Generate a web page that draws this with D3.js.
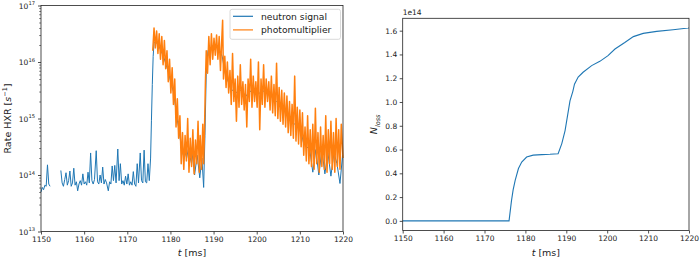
<!DOCTYPE html>
<html>
<head>
<meta charset="utf-8">
<script src="https://cdn.jsdelivr.net/npm/d3@7"></script>
<style>
  body { margin: 0; background: #fff; }
  svg { display: block; font-family: "DejaVu Sans", sans-serif; }
</style>
</head>
<body>
<div id="chart-area"></div>
<script>
// data: [t in ms, log10(rate)]  (null = gap in the signal)
const neutronSignal = [
  [1150.0,13.70],[1150.3,13.78],[1150.6,13.74],[1150.9,13.82],[1151.2,13.80],[1151.5,14.18],[1151.8,13.84],[1152.1,13.80],
  [1152.4,null],[1152.7,13.80],[1153.0,null],[1153.3,13.79],[1153.6,null],[1154.0,13.76],[1154.3,null],[1154.6,14.08],
  [1154.9,13.86],[1155.2,13.80],[1155.5,13.92],[1155.8,14.04],[1156.1,13.82],[1156.4,13.90],[1156.7,14.07],[1157.0,13.80],
  [1157.3,13.86],[1157.6,14.12],[1157.9,13.82],[1158.2,13.88],[1158.5,13.72],[1158.8,13.84],[1159.1,13.90],[1159.4,13.82],
  [1159.7,14.02],[1160.0,13.84],[1160.3,13.88],[1160.6,13.82],[1160.9,14.05],[1161.2,13.86],[1161.5,14.39],[1161.8,13.90],
  [1162.1,13.84],[1162.4,13.92],[1162.8,14.43],[1163.1,13.88],[1163.4,13.84],[1163.7,14.00],[1164.0,13.86],[1164.3,14.14],
  [1164.6,13.84],[1164.9,13.92],[1165.2,13.86],[1165.6,13.72],[1165.9,13.88],[1166.2,13.84],[1166.5,14.16],[1166.8,13.90],
  [1167.1,14.17],[1167.4,13.86],[1167.8,14.46],[1168.1,13.90],[1168.4,14.20],[1168.7,13.84],[1169.0,13.90],[1169.3,13.82],
  [1169.6,13.98],[1169.9,13.84],[1170.2,14.02],[1170.5,13.82],[1170.8,13.88],[1171.1,13.82],[1171.4,14.06],[1171.7,13.84],
  [1172.0,13.80],[1172.3,14.20],[1172.6,13.86],[1173.0,14.39],[1173.3,13.90],[1173.6,13.86],[1173.9,14.44],[1174.2,13.88],
  [1174.5,13.86],[1174.8,14.20],[1175.1,13.90],[1175.4,14.30],[1175.6,14.97],[1175.8,15.60],[1176.0,16.10],[1176.2,16.35],
  [1176.6,16.35],[1177.2,16.30],[1177.8,16.20],[1178.4,16.10],[1179.0,15.95],[1179.6,15.80],[1180.2,15.60],[1180.8,15.45],
  [1181.4,15.05],[1182.0,14.80],[1182.6,14.45],[1183.2,14.30],[1183.8,14.45],[1184.4,14.20],[1185.0,14.40],[1185.6,14.00],
  [1186.2,14.35],[1186.8,13.95],[1187.3,14.30],[1187.7,13.78],[1188.0,14.70],[1188.3,15.80],[1188.7,16.20],[1189.3,16.25],
  [1190.0,16.30],[1190.7,16.30],[1191.4,16.20],[1192.0,16.10],[1192.7,15.80],[1193.4,15.65],[1194.1,15.50],[1194.8,15.50],
  [1195.5,15.45],[1196.2,15.50],[1196.9,15.45],[1197.6,15.40],[1198.3,15.50],[1199.0,15.45],[1199.7,15.50],[1200.4,15.45],
  [1201.1,15.45],[1201.8,15.50],[1202.5,15.45],[1203.2,15.40],[1203.9,15.35],[1204.6,15.30],[1205.3,15.25],[1206.0,15.20],
  [1206.7,15.10],[1207.4,15.00],[1208.1,14.95],[1208.8,14.90],[1209.5,14.85],[1210.2,14.80],[1210.9,14.55],[1211.6,14.50],
  [1212.3,14.45],[1213.0,14.05],[1213.7,14.45],[1214.4,14.00],[1215.1,14.45],[1215.8,14.02],[1216.5,14.40],[1217.2,13.98],
  [1217.9,14.40],[1218.6,14.20],[1219.3,13.85],[1219.9,14.35]
]

const photomultiplier = [
  [1175.9,16.20],[1176.2,16.60],[1176.5,16.25],[1176.8,16.55],[1177.1,16.15],[1177.4,16.50],
  [1177.7,16.05],[1178.0,16.45],[1178.3,15.95],[1178.6,16.38],[1178.9,15.88],[1179.2,16.20],
  [1179.5,15.65],[1179.8,16.05],[1180.1,15.45],[1180.4,15.90],[1180.7,15.25],[1181.0,15.70],
  [1181.3,14.85],[1181.6,15.35],[1181.9,14.65],[1182.2,15.05],
  [1182.5,14.20],[1182.8,14.75],[1183.1,14.10],[1183.4,14.70],[1183.7,14.25],[1184.0,15.00],[1184.3,14.05],[1184.6,14.65],
  [1184.9,14.15],[1185.2,14.80],[1185.5,14.02],[1185.8,14.62],[1186.1,14.20],[1186.4,14.95],[1186.7,14.05],[1186.9,14.70],
  [1187.2,14.10],[1187.5,14.90],[1187.7,14.20],[1187.9,14.80],[1188.1,15.60],[1188.3,16.20],
  [1188.6,15.80],[1188.9,16.45],[1189.2,15.95],[1189.5,16.50],[1189.8,16.05],[1190.1,16.42],[1190.4,16.12],[1190.7,16.48],
  [1191.0,16.05],[1191.3,16.45],[1191.6,15.85],[1191.9,16.40],[1192.1,16.74],[1192.3,15.70],
  [1192.6,16.10],[1192.9,15.55],[1193.2,16.00],[1193.5,15.45],[1193.8,15.85],
  [1194.1,15.25],[1194.4,16.15],[1194.7,15.30],[1195.0,15.70],[1195.3,14.95],[1195.6,15.75],[1195.9,15.20],[1196.2,15.95],
  [1196.5,15.25],[1196.8,15.65],[1197.1,15.15],[1197.4,15.60],[1197.7,14.85],[1198.0,15.70],[1198.3,15.30],[1198.6,16.05],
  [1198.9,15.20],[1199.2,15.75],[1199.5,15.30],[1199.8,15.65],[1200.1,15.20],[1200.4,16.00],[1200.7,14.80],[1201.0,15.70],
  [1201.3,15.25],[1201.6,15.95],[1201.9,15.20],[1202.2,15.70],[1202.5,15.30],[1202.8,15.65],[1203.1,15.15],[1203.4,15.75],
  [1203.7,15.10],[1204.0,15.60],[1204.3,15.05],[1204.6,15.98],[1204.9,15.00],[1205.2,15.55],
  [1205.5,14.95],[1205.8,15.50],[1206.1,14.90],[1206.4,15.45],[1206.7,14.85],[1207.0,15.40],
  [1207.3,14.75],[1207.6,15.30],[1207.9,14.70],[1208.2,15.25],[1208.5,14.65],[1208.8,15.75],[1209.1,14.60],[1209.4,15.20],
  [1209.7,14.55],[1210.0,15.15],[1210.3,14.50],[1210.6,15.10],
  [1210.9,14.35],[1211.2,14.85],[1211.5,14.25],[1211.8,15.05],[1212.1,14.20],[1212.4,14.80],[1212.7,14.15],[1213.0,14.90],
  [1213.3,14.10],[1213.6,15.18],[1213.9,14.20],[1214.2,14.75],[1214.5,14.05],[1214.8,14.85],[1215.1,14.15],[1215.4,14.70],
  [1215.7,14.10],[1216.0,15.05],[1216.3,14.05],[1216.6,14.80],[1216.9,14.20],[1217.2,14.95],[1217.5,14.10],[1217.8,14.75],
  [1218.1,14.05],[1218.4,15.00],[1218.7,14.15],[1219.0,14.80],[1219.3,14.10],[1219.6,14.90],[1220.0,14.30]
]

// N_loss in units of 1e14
const nLoss = [
  [1150,0],[1176.0,0],[1176.6,0.17],[1177.0,0.26],[1177.5,0.34],[1178.3,0.44],[1179.1,0.495],[1180.3,0.537],
  [1181.9,0.553],[1184.0,0.557],[1186.0,0.56],[1188.0,0.565],[1188.9,0.65],[1189.7,0.76],[1190.9,1.01],
  [1191.6,1.09],[1192.0,1.15],[1192.9,1.21],[1194.1,1.25],[1196.2,1.306],[1198.2,1.342],[1200.2,1.39],
  [1201.9,1.446],[1204.3,1.50],[1206.4,1.55],[1208.8,1.577],[1212.1,1.594],[1216.1,1.608],[1219.8,1.622],[1220,1.623]
]

const timeTicks = [1150, 1160, 1170, 1180, 1190, 1200, 1210, 1220]
const logExponents = [13, 14, 15, 16, 17]
const lossTicks = [0, 0.2, 0.4, 0.6, 0.8, 1.0, 1.2, 1.4, 1.6]
const seriesNames = ["neutron signal", "photomultiplier"]
const seriesColors = ["#1f77b4", "#ff7f0e"]

const WIDTH = 700
const HEIGHT = 260
const LEFT = { X0: 41, X1: 343, Y0: 5.5, Y1: 231.5 }
const RIGHT = { X0: 402.7, X1: 689, Y0: 18.3, Y1: 230.5 }
const TICK_FONT = 7.5
const LABEL_FONT = 9.5
const INK = "#222"

const svg = d3.select("#chart-area").append("svg")
  .attr("width", WIDTH)
  .attr("height", HEIGHT)

// ---------- left panel ----------
const xLeft = d3.scaleLinear().domain([1150, 1220]).range([LEFT.X0, LEFT.X1])
const yLeft = d3.scaleLog().domain([1e13, 1e17]).range([LEFT.Y1, LEFT.Y0])

const minorLog = []
logExponents.slice(0, -1).forEach(e => {
  for (let m = 2; m <= 9; m++) minorLog.push(m * Math.pow(10, e))
})

svg.append("g")
  .attr("transform", `translate(${LEFT.X0},0)`)
  .call(d3.axisLeft(yLeft).tickValues(minorLog).tickSize(1.8).tickFormat(""))
  .call(g => g.select(".domain").remove())
  .selectAll("line").attr("stroke", INK).attr("stroke-width", 0.6)

const yLeftAxis = svg.append("g")
  .attr("transform", `translate(${LEFT.X0},0)`)
  .call(d3.axisLeft(yLeft).tickValues(logExponents.map(e => Math.pow(10, e))).tickSize(3).tickFormat(""))
yLeftAxis.select(".domain").remove()
yLeftAxis.selectAll("line").attr("stroke", INK).attr("stroke-width", 0.8)

logExponents.forEach(e => {
  const t = svg.append("text")
    .attr("x", LEFT.X0 - 6)
    .attr("y", yLeft(Math.pow(10, e)) + 3.2)
    .attr("text-anchor", "end")
    .attr("font-size", TICK_FONT)
    .attr("fill", INK)
  t.append("tspan").text("10")
  t.append("tspan").attr("font-size", 5.2).attr("dy", -3.6).text(e)
})

const xLeftAxis = svg.append("g")
  .attr("transform", `translate(0,${LEFT.Y1})`)
  .call(d3.axisBottom(xLeft).tickValues(timeTicks).tickSize(3).tickPadding(2.5).tickFormat(d3.format("d")))
xLeftAxis.select(".domain").remove()
xLeftAxis.selectAll("line").attr("stroke", INK).attr("stroke-width", 0.8)
xLeftAxis.selectAll("text").attr("font-size", TICK_FONT).attr("fill", INK)
  .attr("font-family", "DejaVu Sans")

const logLine = d3.line()
  .defined(d => d[1] !== null)
  .x(d => xLeft(d[0]))
  .y(d => yLeft(Math.pow(10, d[1])))

const plotLeft = svg.append("g")
plotLeft.append("path")
  .datum(neutronSignal)
  .attr("d", logLine)
  .attr("fill", "none")
  .attr("stroke", seriesColors[0])
  .attr("stroke-width", 1)
plotLeft.append("path")
  .datum(photomultiplier)
  .attr("d", logLine)
  .attr("fill", "none")
  .attr("stroke", seriesColors[1])
  .attr("stroke-width", 1.5)
  .attr("stroke-linejoin", "round")

svg.append("rect")
  .attr("x", LEFT.X0).attr("y", LEFT.Y0)
  .attr("width", LEFT.X1 - LEFT.X0).attr("height", LEFT.Y1 - LEFT.Y0)
  .attr("fill", "none").attr("stroke", INK).attr("stroke-width", 0.8)

// legend
const legend = svg.append("g").attr("transform", "translate(230,9.3)")
legend.append("rect")
  .attr("width", 110.5).attr("height", 30)
  .attr("rx", 2)
  .attr("fill", "#fff").attr("fill-opacity", 0.8)
  .attr("stroke", "#d0d0d0").attr("stroke-width", 0.8)
seriesNames.forEach((name, i) => {
  const yy = 7 + i * 13.6
  legend.append("line")
    .attr("x1", 3).attr("x2", 23).attr("y1", yy).attr("y2", yy)
    .attr("stroke", seriesColors[i]).attr("stroke-width", 1.2)
  legend.append("text")
    .attr("x", 31).attr("y", yy + 3.3)
    .attr("font-size", 9.2).attr("fill", INK)
    .text(name)
})

svg.append("text")
  .attr("x", (LEFT.X0 + LEFT.X1) / 2).attr("y", 256)
  .attr("text-anchor", "middle")
  .attr("font-size", LABEL_FONT).attr("fill", INK)
  .call(t => {
    t.append("tspan").attr("font-style", "italic").text("t")
    t.append("tspan").text(" [ms]")
  })

svg.append("text")
  .attr("transform", `translate(10.5,${(LEFT.Y0 + LEFT.Y1) / 2}) rotate(-90)`)
  .attr("text-anchor", "middle")
  .attr("font-size", LABEL_FONT).attr("fill", INK)
  .call(t => {
    t.append("tspan").text("Rate HXR [")
    t.append("tspan").attr("font-style", "italic").text("s")
    t.append("tspan").attr("font-size", 6.5).attr("dy", -3.5).text("−1")
    t.append("tspan").attr("dy", 3.5).text("]")
  })

// ---------- right panel ----------
const xRight = d3.scaleLinear().domain([1150, 1220]).range([RIGHT.X0, RIGHT.X1])
const yRight = d3.scaleLinear().domain([-0.0811, 1.7041]).range([RIGHT.Y1, RIGHT.Y0])

const yRightAxis = svg.append("g")
  .attr("transform", `translate(${RIGHT.X0},0)`)
  .call(d3.axisLeft(yRight).tickValues(lossTicks).tickSize(3).tickPadding(2.5).tickFormat(d3.format(".1f")))
yRightAxis.select(".domain").remove()
yRightAxis.selectAll("line").attr("stroke", INK).attr("stroke-width", 0.8)
yRightAxis.selectAll("text").attr("font-size", TICK_FONT).attr("fill", INK)
  .attr("font-family", "DejaVu Sans")

const xRightAxis = svg.append("g")
  .attr("transform", `translate(0,${RIGHT.Y1})`)
  .call(d3.axisBottom(xRight).tickValues(timeTicks).tickSize(3).tickPadding(2.5).tickFormat(d3.format("d")))
xRightAxis.select(".domain").remove()
xRightAxis.selectAll("line").attr("stroke", INK).attr("stroke-width", 0.8)
xRightAxis.selectAll("text").attr("font-size", TICK_FONT).attr("fill", INK)
  .attr("font-family", "DejaVu Sans")

svg.append("path")
  .datum(nLoss)
  .attr("d", d3.line().x(d => xRight(d[0])).y(d => yRight(d[1])))
  .attr("fill", "none")
  .attr("stroke", seriesColors[0])
  .attr("stroke-width", 1.1)

svg.append("rect")
  .attr("x", RIGHT.X0).attr("y", RIGHT.Y0)
  .attr("width", RIGHT.X1 - RIGHT.X0).attr("height", RIGHT.Y1 - RIGHT.Y0)
  .attr("fill", "none").attr("stroke", INK).attr("stroke-width", 0.8)

svg.append("text")
  .attr("x", RIGHT.X0).attr("y", 15)
  .attr("font-size", TICK_FONT).attr("fill", INK)
  .text("1e14")

svg.append("text")
  .attr("x", (RIGHT.X0 + RIGHT.X1) / 2).attr("y", 256)
  .attr("text-anchor", "middle")
  .attr("font-size", LABEL_FONT).attr("fill", INK)
  .call(t => {
    t.append("tspan").attr("font-style", "italic").text("t")
    t.append("tspan").text(" [ms]")
  })

svg.append("text")
  .attr("transform", `translate(377,${(RIGHT.Y0 + RIGHT.Y1) / 2}) rotate(-90)`)
  .attr("text-anchor", "middle")
  .attr("font-size", LABEL_FONT).attr("fill", INK)
  .call(t => {
    t.append("tspan").attr("font-style", "italic").text("N")
    t.append("tspan").attr("font-style", "italic").attr("font-size", 6.5).attr("dy", 2.5).text("loss")
  })
</script>
</body>
</html>
